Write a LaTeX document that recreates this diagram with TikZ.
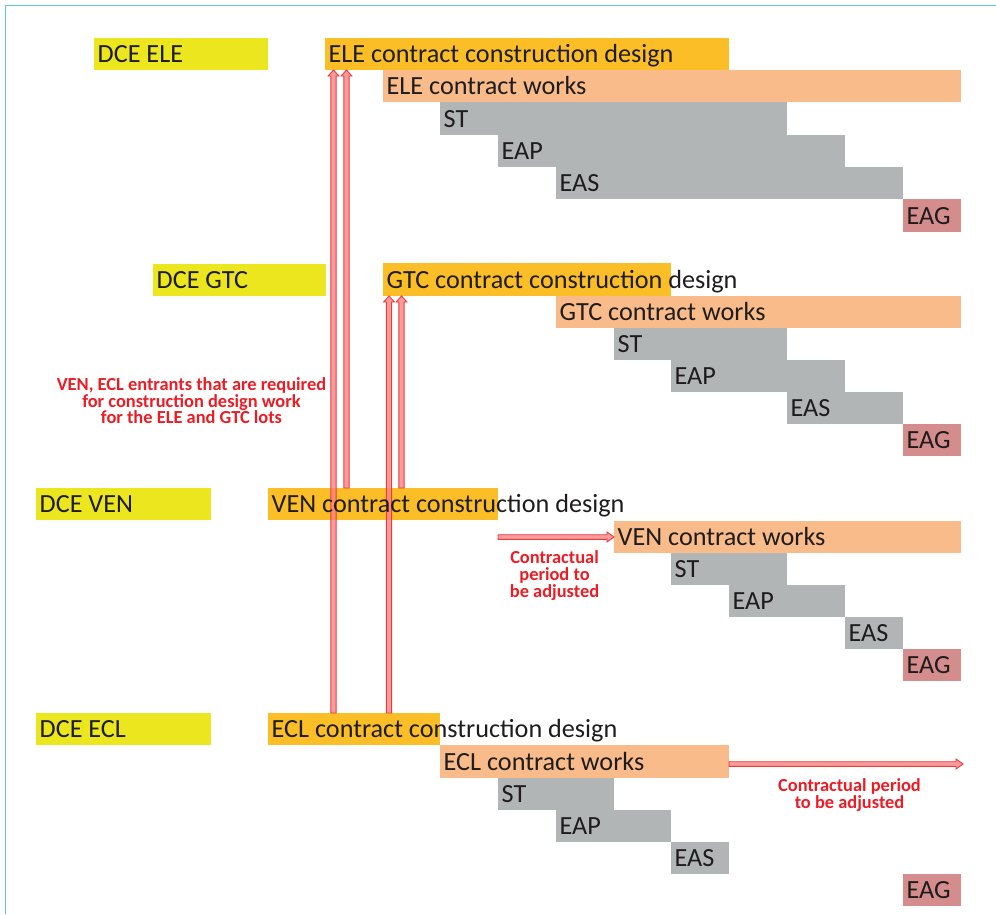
\documentclass[tikz,border=0pt]{standalone}
\usepackage{fontspec}
\setmainfont{Carlito}
\usetikzlibrary{calc}

\definecolor{dceyellow}{RGB}{235,230,30}
\definecolor{designorange}{RGB}{252,190,38}
\definecolor{workspeach}{RGB}{249,187,138}
\definecolor{phasegray}{RGB}{178,181,182}
\definecolor{eagrose}{RGB}{213,140,140}
\definecolor{inkdark}{RGB}{30,28,28}
\definecolor{notered}{RGB}{237,28,36}
\definecolor{arrowfill}{RGB}{250,130,130}
\definecolor{arrowline}{RGB}{232,60,60}
\definecolor{frameteal}{RGB}{95,200,205}

\pgfdeclarelayer{bars}
\pgfdeclarelayer{arrows}
\pgfsetlayers{bars,arrows,main}

\tikzset{
  barbox/.style={draw=none, inner sep=0pt, outer sep=0pt, anchor=north west},
  bartext/.style={anchor=base west, inner sep=0pt, text=inkdark,
    font=\fontsize{26.2}{29}\selectfont},
  note/.style={text=notered, align=center, inner sep=0pt},
  blockarrow/.style={fill=arrowfill, draw=arrowline, line width=0.9pt,
    fill opacity=0.8, line join=miter},
  frame/.style={draw=frameteal, line width=1.6pt},
}

% a schedule bar: name, x1, y1, x2, y2, fill colour, label
\newcommand\ganttbar[7]{%
  \begin{pgfonlayer}{bars}
    \node[barbox, fill=#6, minimum width=#4pt-#2pt, minimum height=#5pt-#3pt]
      (#1) at (#2,#3) {};
  \end{pgfonlayer}
  \node[bartext] (#1-t) at ([xshift=3.5pt,yshift=8pt]#1.south west) {#7};
}

% upward block arrow at abscissa #1, from the top of node #2 to the bottom of node #3
\newcommand\feedarrow[3]{%
  \begin{pgfonlayer}{arrows}
    \path let \p1=(#2.north), \p2=(#3.south) in
      [blockarrow] (#1pt-2.6pt,\y1) -- (#1pt-2.6pt,\y2-6pt) -- (#1pt-5.4pt,\y2-6pt)
      -- (#1pt,\y2) -- (#1pt+5.4pt,\y2-6pt) -- (#1pt+2.6pt,\y2-6pt)
      -- (#1pt+2.6pt,\y1) -- cycle;
  \end{pgfonlayer}
}

% rightward block arrow from point #1 to point #2
\newcommand\delayarrow[2]{%
  \begin{pgfonlayer}{arrows}
    \path let \p1=(#1), \p2=(#2) in
      [blockarrow] (\x1,\y2+2.3pt) -- (\x2-7pt,\y2+2.3pt) -- (\x2-7pt,\y2+5pt)
      -- (\x2,\y2) -- (\x2-7pt,\y2-5pt) -- (\x2-7pt,\y2-2.3pt)
      -- (\x1,\y2-2.3pt) -- cycle;
  \end{pgfonlayer}
}

\begin{document}
\begin{tikzpicture}[x=1pt, y=-1pt]
\useasboundingbox (0,0) rectangle (996,914);
\draw[frame] (5.5,914) -- (5.5,5.5) -- (996,5.5);

% ELE lot
\ganttbar{eledce}{94}{38}{268}{70}{dceyellow}{DCE ELE}
\ganttbar{eledes}{325}{38}{729}{70}{designorange}{ELE contract construction design}
\ganttbar{elewk}{383}{70}{961}{102}{workspeach}{ELE contract works}
\ganttbar{elest}{440}{102}{787}{135}{phasegray}{ST}
\ganttbar{eleeap}{498}{135}{845}{167}{phasegray}{EAP}
\ganttbar{eleeas}{556}{167}{903}{199}{phasegray}{EAS}
\ganttbar{eleeag}{903}{199}{961}{232}{eagrose}{EAG}

% GTC lot
\ganttbar{gtcdce}{153}{264}{326}{296}{dceyellow}{DCE GTC}
\ganttbar{gtcdes}{383}{263}{671}{296}{designorange}{GTC contract construction design}
\ganttbar{gtcwk}{556}{296}{961}{328}{workspeach}{GTC contract works}
\ganttbar{gtcst}{614}{328}{787}{360}{phasegray}{ST}
\ganttbar{gtceap}{671}{360}{845}{392}{phasegray}{EAP}
\ganttbar{gtceas}{787}{392}{903}{424}{phasegray}{EAS}
\ganttbar{gtceag}{903}{424}{961}{456}{eagrose}{EAG}

% VEN lot
\ganttbar{vendce}{36}{488}{211}{520}{dceyellow}{DCE VEN}
\ganttbar{vendes}{268}{488}{498}{520}{designorange}{VEN contract construction design}
\ganttbar{venwk}{614}{521}{961}{553}{workspeach}{VEN contract works}
\ganttbar{venst}{671}{553}{787}{585}{phasegray}{ST}
\ganttbar{veneap}{729}{585}{845}{617}{phasegray}{EAP}
\ganttbar{veneas}{845}{617}{903}{649}{phasegray}{EAS}
\ganttbar{veneag}{903}{649}{961}{681}{eagrose}{EAG}

% ECL lot
\ganttbar{ecldce}{36}{713}{211}{745}{dceyellow}{DCE ECL}
\ganttbar{ecldes}{268}{713}{440}{745}{designorange}{ECL contract construction design}
\ganttbar{eclwk}{440}{745}{729}{778}{workspeach}{ECL contract works}
\ganttbar{eclst}{498}{778}{614}{810}{phasegray}{ST}
\ganttbar{ecleap}{556}{810}{671}{842}{phasegray}{EAP}
\ganttbar{ecleas}{671}{842}{729}{874}{phasegray}{EAS}
\ganttbar{ecleag}{903}{874}{961}{906}{eagrose}{EAG}

% VEN and ECL inputs feeding the ELE and GTC design
\feedarrow{333.5}{ecldes}{eledes}
\feedarrow{346.5}{vendes}{eledes}
\feedarrow{389}{ecldes}{gtcdes}
\feedarrow{401.5}{vendes}{gtcdes}

% contractual delays
\delayarrow{vendes.east |- venwk.west}{venwk.west}
\coordinate (eclend) at (963,764);
\delayarrow{eclwk.east |- eclend}{eclend}

% notes
\node[note, font=\bfseries\fontsize{18.4}{16.6}\selectfont] (feednote) at (191.5,401)
  {VEN, ECL entrants that are required\\for construction design work\\for the ELE and GTC lots};
\node[note, font=\bfseries\fontsize{18.4}{16.6}\selectfont] (vennote) at (554.5,575.5)
  {Contractual\\period to\\be adjusted};
\node[note, font=\bfseries\fontsize{18.4}{16.6}\selectfont] (eclnote) at (849.5,795)
  {Contractual period\\to be adjusted};
\end{tikzpicture}
\end{document}
